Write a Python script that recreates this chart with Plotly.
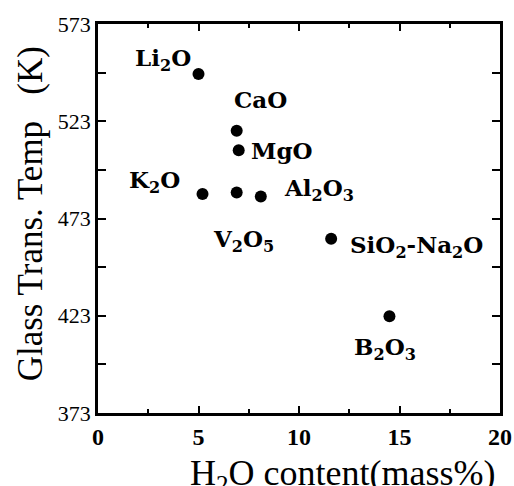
import plotly.graph_objects as go

# Data
oxides = ["Li<sub>2</sub>O", "CaO", "MgO", "K<sub>2</sub>O", "V<sub>2</sub>O<sub>5</sub>",
          "Al<sub>2</sub>O<sub>3</sub>", "SiO<sub>2</sub>-Na<sub>2</sub>O", "B<sub>2</sub>O<sub>3</sub>"]
h2o_content = [5.0, 6.9, 7.0, 5.2, 6.9, 8.1, 11.6, 14.5]
glass_temp = [547.3, 518.1, 508.1, 485.6, 486.4, 484.3, 462.6, 422.7]

# label anchor positions (data coords)
label_x = [3.25, 8.07, 9.15, 2.83, 7.25, 11.0, 15.83, 14.26]
label_y = [555.0, 534.0, 507.8, 491.9, 461.6, 488.0, 458.5, 406.1]

x_ticks = [0, 5, 10, 15, 20]
y_ticks = [373, 423, 473, 523, 573]

fig = go.Figure()
fig.add_trace(go.Scatter(
    x=h2o_content, y=glass_temp, mode="markers",
    marker=dict(size=12, color="black"),
    hoverinfo="skip", showlegend=False,
))

for name, lx, ly in zip(oxides, label_x, label_y):
    fig.add_annotation(
        x=lx, y=ly, xref="x", yref="y", text=f"<b>{name}</b>", showarrow=False,
        font=dict(family="DejaVu Serif", size=23, color="black"),
        xanchor="center", yanchor="middle",
    )

fig.add_annotation(
    x=0.61, y=-0.16, xref="paper", yref="paper",
    text="H<sub>2</sub>O content(mass%)", showarrow=False,
    font=dict(family="Liberation Serif", size=36, color="black"),
    xanchor="center", yanchor="middle",
)
fig.add_annotation(
    x=-0.168, y=0.512, xref="paper", yref="paper",
    text="Glass Trans. Temp&nbsp;&nbsp;&nbsp;(K)", showarrow=False, textangle=-90,
    font=dict(family="Liberation Serif", size=35, color="black"),
    xanchor="center", yanchor="middle",
)

axis_common = dict(
    showline=True, linecolor="black", linewidth=2.5, mirror="ticks",
    ticks="inside", tickcolor="black", tickwidth=2,
    showgrid=False, zeroline=False, automargin=False,
)

fig.update_xaxes(
    range=[0, 20], tickvals=x_ticks, ticklen=7,
    tickfont=dict(family="Liberation Serif", size=24, color="black", weight="bold"),
    minor=dict(dtick=2.5, tick0=0, ticks="inside", ticklen=4, tickwidth=2, tickcolor="black", showgrid=False),
    **axis_common,
)
fig.update_yaxes(
    range=[373, 573], tickvals=y_ticks, ticklen=8,
    tickfont=dict(family="Liberation Serif", size=22, color="black"),
    minor=dict(dtick=25, tick0=373, ticks="inside", ticklen=8, tickwidth=2, tickcolor="black", showgrid=False),
    **axis_common,
)

fig.update_layout(
    width=514, height=486,
    margin=dict(l=97.5, r=14, t=24, b=72.5, autoexpand=False),
    paper_bgcolor="white", plot_bgcolor="white",
)

# remove default page margin / scrollbars so the figure fills the window exactly
fig.write_html(
    "out.html",
    config={"displayModeBar": False},
    post_script="document.body.style.margin='0';document.body.style.overflow='hidden';",
)
